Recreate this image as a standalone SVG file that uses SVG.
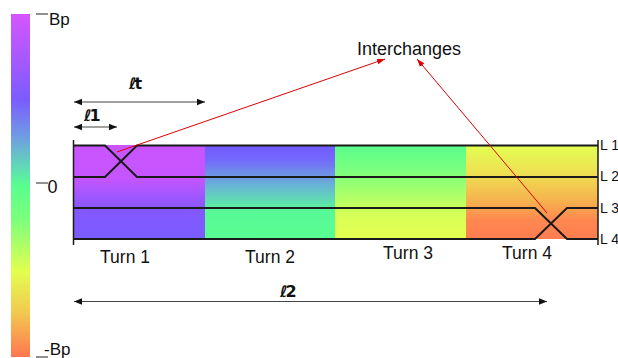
<svg xmlns="http://www.w3.org/2000/svg" width="618" height="358" viewBox="0 0 618 358">
<defs>
<linearGradient id="gBar" x1="0" y1="14" x2="0" y2="357" gradientUnits="userSpaceOnUse">
<stop offset="0" stop-color="#d655ff"/>
<stop offset="0.25" stop-color="#7b5cff"/>
<stop offset="0.36" stop-color="#6f9ee2"/>
<stop offset="0.45" stop-color="#60dcb4"/>
<stop offset="0.5" stop-color="#58ff8e"/>
<stop offset="0.6" stop-color="#7cff7c"/>
<stop offset="0.75" stop-color="#e2ff50"/>
<stop offset="0.87" stop-color="#f2c950"/>
<stop offset="1" stop-color="#ff7650"/>
</linearGradient>
<linearGradient id="g1" x1="0" y1="0" x2="0" y2="1">
<stop offset="0" stop-color="#c955ff"/>
<stop offset="0.35" stop-color="#c655ff"/>
<stop offset="0.7" stop-color="#8258ff"/>
<stop offset="1" stop-color="#7a5cff"/>
</linearGradient>
<linearGradient id="g2" x1="0" y1="0" x2="0" y2="1">
<stop offset="0" stop-color="#7358ff"/>
<stop offset="0.15" stop-color="#7468fc"/>
<stop offset="0.45" stop-color="#68b8d2"/>
<stop offset="0.7" stop-color="#58f898"/>
<stop offset="1" stop-color="#58ff90"/>
</linearGradient>
<linearGradient id="g3" x1="0" y1="0" x2="0" y2="1">
<stop offset="0" stop-color="#58ff8e"/>
<stop offset="0.3" stop-color="#80ff7c"/>
<stop offset="0.75" stop-color="#d8ff56"/>
<stop offset="1" stop-color="#e4ff50"/>
</linearGradient>
<linearGradient id="g4" x1="0" y1="0" x2="0" y2="1">
<stop offset="0" stop-color="#e2ff52"/>
<stop offset="0.3" stop-color="#eee052"/>
<stop offset="0.6" stop-color="#f6b04e"/>
<stop offset="0.8" stop-color="#fe8850"/>
<stop offset="1" stop-color="#ff7c50"/>
</linearGradient>
<marker id="ah" viewBox="0 0 10 10" refX="10" refY="5" markerWidth="8" markerHeight="8" markerUnits="userSpaceOnUse" orient="auto-start-reverse">
<path d="M0,1 L10,5 L0,9 z" fill="#111"/>
</marker>
<marker id="ahr" viewBox="0 0 10 10" refX="10" refY="5" markerWidth="8" markerHeight="8" markerUnits="userSpaceOnUse" orient="auto">
<path d="M0,1.5 L10,5 L0,8.5 z" fill="#d00"/>
</marker>
</defs>
<style>
text{font-family:"Liberation Sans",Arial,sans-serif;fill:#111}
.lane{stroke:#1a1a1a;stroke-width:2;fill:none}
.frame{stroke:#1a1a1a;stroke-width:1.5;fill:none}
.tick{stroke:#222;stroke-width:1}
.dim{stroke:#444;stroke-width:1.2;fill:none;marker-start:url(#ah);marker-end:url(#ah)}
.red{stroke:#d00;stroke-width:1;fill:none;marker-end:url(#ahr)}
.turn{font-size:17.5px;text-anchor:middle}
.ln{font-size:14px}
.ell{font-family:"DejaVu Sans",sans-serif;font-weight:bold;font-size:16px;letter-spacing:-2px}
</style>

<g id="colorbar">
<rect x="11" y="14" width="19" height="343" fill="url(#gBar)"/>
<line class="tick" x1="36" y1="14" x2="48" y2="14"/>
<text x="49" y="24.5" font-size="17">Bp</text>
<line class="tick" x1="36" y1="183" x2="48" y2="183"/>
<text x="47.5" y="192.5" font-size="18">0</text>
<line class="tick" x1="36" y1="357" x2="48" y2="357"/>
<text x="44" y="355" font-size="17">-Bp</text>
</g>

<g id="turn1">
<rect x="74" y="145" width="131" height="94" fill="url(#g1)"/>
<text class="turn" x="125" y="263">Turn 1</text>
</g>
<g id="turn2">
<rect x="205" y="145" width="130" height="94" fill="url(#g2)"/>
<text class="turn" x="270" y="263">Turn 2</text>
</g>
<g id="turn3">
<rect x="335" y="145" width="131" height="94" fill="url(#g3)"/>
<text class="turn" x="408" y="259">Turn 3</text>
</g>
<g id="turn4">
<rect x="466" y="145" width="132" height="94" fill="url(#g4)"/>
<text class="turn" x="527" y="259">Turn 4</text>
</g>

<g id="lanes">
<line class="frame" x1="73.5" y1="140" x2="73.5" y2="245"/>
<line class="frame" x1="598" y1="140" x2="598" y2="245"/>
<polyline class="lane" points="74,145.5 105,145.5 137,177 598,177"/>
<polyline class="lane" points="74,177 105,177 137,145.5 598,145.5"/>
<polyline class="lane" points="74,208 535,208 567,239 598,239"/>
<polyline class="lane" points="74,239 535,239 567,208 598,208"/>
<text class="ln" x="600" y="150">L 1</text>
<text class="ln" x="600" y="181">L 2</text>
<text class="ln" x="600" y="212.5">L 3</text>
<text class="ln" x="600" y="244">L 4</text>
</g>

<g id="interchanges">
<text x="409" y="55" font-size="18" text-anchor="middle">Interchanges</text>
</g>

<g id="connectors">
<line class="red" x1="117" y1="152" x2="385" y2="59"/>
<line class="red" x1="547" y1="213" x2="417" y2="59"/>
<line class="dim" x1="74" y1="102" x2="205" y2="102"/>
<line class="dim" x1="74" y1="127" x2="117" y2="127"/>
<line class="dim" x1="74" y1="301.5" x2="547" y2="301.5"/>
</g>

<g id="dimlabels">
<text class="ell" x="129" y="89">ℓt</text>
<text class="ell" x="84" y="121">ℓ1</text>
<text class="ell" x="280" y="297">ℓ2</text>
</g>
</svg>
